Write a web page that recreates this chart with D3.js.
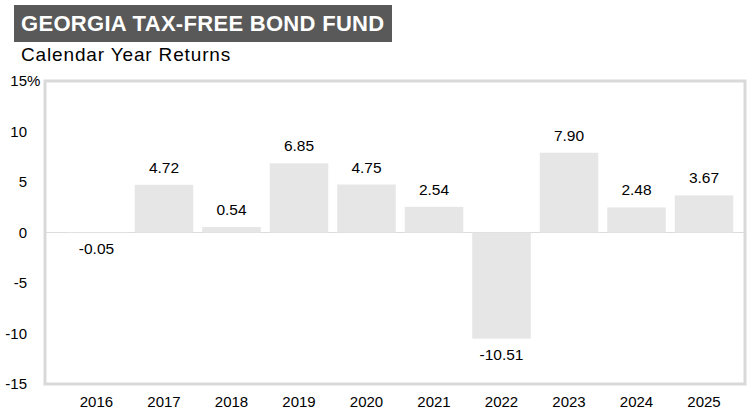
<!DOCTYPE html>
<html lang="en">
<head>
    <meta charset="UTF-8">
    <title>Georgia Tax-Free Bond Fund</title>
    <script src="https://d3js.org/d3.v7.min.js"></script>
    <style>
        body {
            margin: 0;
            background-color: #fff;
            font-family: Arial, "Liberation Sans", sans-serif;
        }
        svg text {
            fill: #000;
        }
    </style>
</head>
<body>
<div id="chart"></div>

<script>
    const years = ["2016", "2017", "2018", "2019", "2020", "2021", "2022", "2023", "2024", "2025"];
    const returns = [-0.05, 4.72, 0.54, 6.85, 4.75, 2.54, -10.51, 7.90, 2.48, 3.67];
    const yTicks = [-15, -10, -5, 0, 5, 10, 15];

    const width = 752;
    const height = 411;

    const svg = d3.select("#chart")
        .append("svg")
        .attr("width", width)
        .attr("height", height);

    // title bar
    svg.append("rect")
        .attr("x", 14)
        .attr("y", 5)
        .attr("width", 378)
        .attr("height", 37)
        .attr("fill", "#595959");

    svg.append("text")
        .attr("x", 21)
        .attr("y", 31)
        .attr("font-size", "22px")
        .attr("font-weight", "bold")
        .attr("letter-spacing", "0.3px")
        .style("fill", "#fff")
        .text("GEORGIA TAX-FREE BOND FUND");

    svg.append("text")
        .attr("x", 21)
        .attr("y", 61)
        .attr("font-size", "19px")
        .attr("letter-spacing", "0.85px")
        .text("Calendar Year Returns");

    // plot frame
    const frame = { left: 45, right: 745, top: 81, bottom: 384 };

    const x = d3.scaleBand()
        .domain(years)
        .range([62.75, 737.75])
        .paddingInner(0.133)
        .paddingOuter(0.066);

    const y = d3.scaleLinear()
        .domain([-15, 15])
        .range([frame.bottom, frame.top]);

    svg.append("rect")
        .attr("x", frame.left)
        .attr("y", frame.top)
        .attr("width", frame.right - frame.left)
        .attr("height", frame.bottom - frame.top)
        .attr("fill", "none")
        .attr("stroke", "#d9d9d9")
        .attr("stroke-width", 3);

    // zero line
    svg.append("line")
        .attr("x1", frame.left)
        .attr("x2", frame.right)
        .attr("y1", y(0))
        .attr("y2", y(0))
        .attr("stroke", "#dcdcdc")
        .attr("stroke-width", 1);

    svg.selectAll("rect.bar")
        .data(returns)
        .enter()
        .append("rect")
        .attr("class", "bar")
        .attr("x", (d, i) => x(years[i]))
        .attr("width", x.bandwidth())
        .attr("y", d => y(Math.max(d, 0)))
        .attr("height", d => Math.max(Math.abs(y(d) - y(0)), 0.6))
        .attr("fill", "#e6e6e6");

    svg.selectAll("text.value")
        .data(returns)
        .enter()
        .append("text")
        .attr("class", "value")
        .attr("x", (d, i) => x(years[i]) + x.bandwidth() / 2)
        .attr("y", d => d >= 0 ? y(d) - 12 : y(d) + 21)
        .attr("text-anchor", "middle")
        .attr("font-size", "15.5px")
        .text(d => d.toFixed(2));

    // y axis
    const yAxis = d3.axisLeft(y)
        .tickValues(yTicks)
        .tickSize(0)
        .tickPadding(0)
        .tickFormat(d => d);

    const gy = svg.append("g")
        .attr("transform", "translate(27,0)")
        .call(yAxis);
    gy.select(".domain").remove();
    gy.selectAll("text")
        .attr("font-size", "15px")
        .attr("font-family", "Arial, 'Liberation Sans', sans-serif");

    svg.append("text")
        .attr("x", 27)
        .attr("y", y(15))
        .attr("dy", "0.32em")
        .attr("font-size", "15px")
        .text("%");

    // x axis
    const xAxis = d3.axisBottom(x).tickSize(0).tickPadding(0);
    const gx = svg.append("g")
        .attr("transform", `translate(0,${frame.bottom + 12})`)
        .call(xAxis);
    gx.select(".domain").remove();
    gx.selectAll("text")
        .attr("font-size", "15px")
        .attr("font-family", "Arial, 'Liberation Sans', sans-serif");
</script>
</body>
</html>
